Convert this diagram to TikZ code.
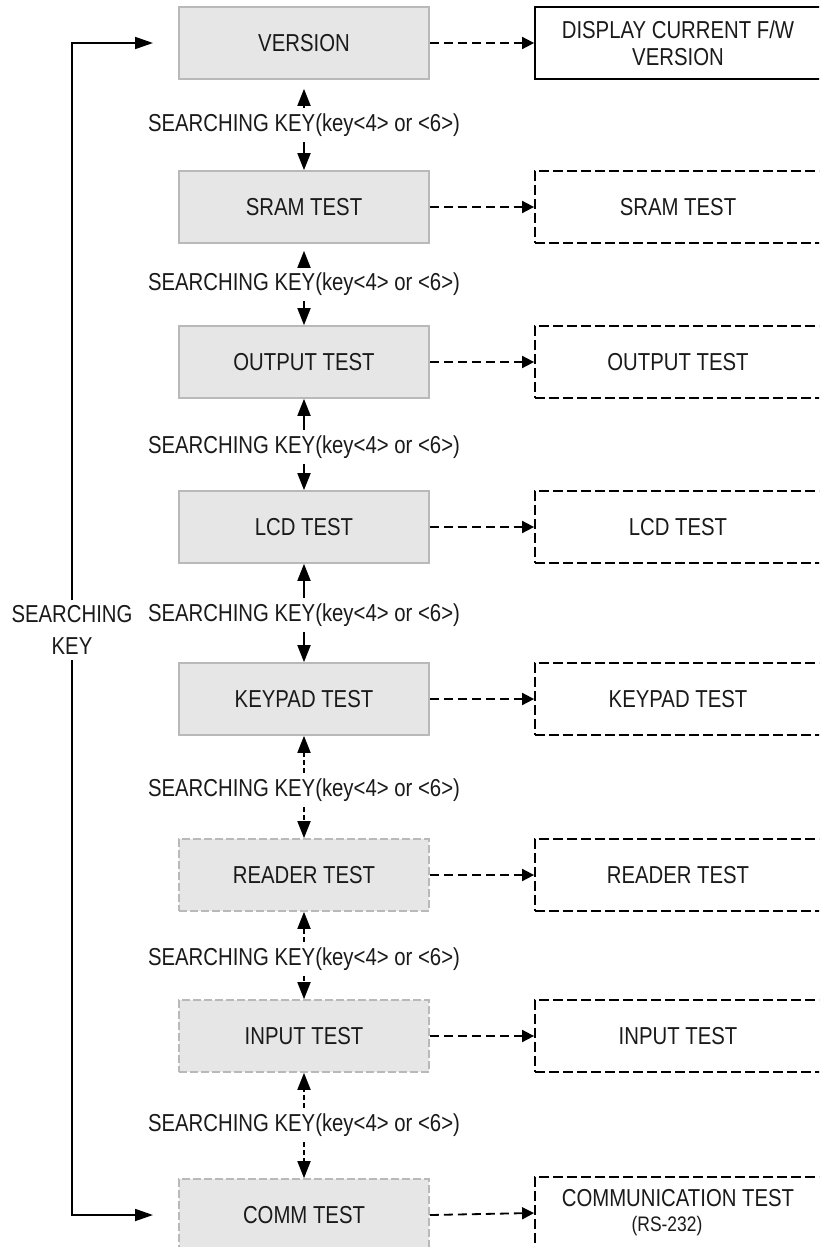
\documentclass[tikz,border=0pt]{standalone}
\usepackage{fontspec}
\setmainfont[FakeStretch=0.83]{Liberation Sans}
\usetikzlibrary{arrows.meta}
\definecolor{gfill}{RGB}{230,230,230}
\definecolor{gborder}{RGB}{185,185,185}
\definecolor{txt}{RGB}{26,26,26}
\begin{document}
\begin{tikzpicture}[x=1pt,y=-1pt,
  font=\fontsize{24.5}{29}\selectfont,
  every node/.style={text=txt},
  gbox/.style={draw=gborder, fill=gfill, line width=1.6pt, minimum width=250pt, minimum height=72pt, inner sep=0pt},
  gdbox/.style={gbox, dash pattern=on 8pt off 3pt},
  rbox/.style={draw=black, line width=1.8pt, minimum width=286pt, minimum height=72pt, inner sep=0pt, align=center},
  rdbox/.style={rbox, dash pattern=on 10pt off 4pt},
  lbl/.style={inner xsep=0pt, inner ysep=6pt, text height=17.5pt, text depth=5pt},
  varrow/.style={line width=1.8pt, -{Triangle[length=17pt,width=13pt]}},
  vdarrow/.style={varrow, dash pattern=on 5pt off 3pt},
  harrow/.style={line width=1.8pt, dash pattern=on 9pt off 5pt, -{Triangle[length=12pt,width=12pt]}},
  loop/.style={line width=1.8pt, -{Triangle[length=18pt,width=12pt]}}
]
\clip (0,0) rectangle (819,1247);

% left column
\node[gbox]  (ver)  at (304,43)   {VERSION};
\node[gbox]  (sram) at (304,207)  {SRAM TEST};
\node[gbox]  (out)  at (304,362)  {OUTPUT TEST};
\node[gbox]  (lcd)  at (304,527)  {LCD TEST};
\node[gbox]  (key)  at (304,699)  {KEYPAD TEST};
\node[gdbox] (rdr)  at (304,875)  {READER TEST};
\node[gdbox] (inp)  at (304,1036) {INPUT TEST};
\node[gdbox] (comm) at (304,1215) {COMM TEST};

% right column
\node[rbox]  (verR)  at (678,43)   {DISPLAY CURRENT F/W\\[-2pt]VERSION};
\node[rdbox] (sramR) at (678,207)  {SRAM TEST};
\node[rdbox] (outR)  at (678,362)  {OUTPUT TEST};
\node[rdbox] (lcdR)  at (678,527)  {LCD TEST};
\node[rdbox] (keyR)  at (678,699)  {KEYPAD TEST};
\node[rdbox] (rdrR)  at (678,875)  {READER TEST};
\node[rdbox] (inpR)  at (678,1036) {INPUT TEST};
\node[rdbox] (commR) at (678,1213) {COMMUNICATION TEST\\[-4pt]{\fontsize{21}{24}\selectfont (RS-232)\hspace*{22pt}}};

% horizontal dashed arrows
\foreach \a in {ver,sram,out,lcd,key,rdr,inp,comm}
  \draw[harrow] (\a.east) -- (\a R.west);

% labels between boxes
\node[lbl] (l1) at (304,125)  {SEARCHING KEY(key<4> or <6>)};
\node[lbl] (l2) at (304,284)  {SEARCHING KEY(key<4> or <6>)};
\node[lbl] (l3) at (304,447)  {SEARCHING KEY(key<4> or <6>)};
\node[lbl] (l4) at (304,615)  {SEARCHING KEY(key<4> or <6>)};
\node[lbl] (l5) at (304,790)  {SEARCHING KEY(key<4> or <6>)};
\node[lbl] (l6) at (304,959)  {SEARCHING KEY(key<4> or <6>)};
\node[lbl] (l7) at (304,1125) {SEARCHING KEY(key<4> or <6>)};

\draw[varrow, shorten >=9pt] (l1.north) -- (ver.south);
\draw[varrow] (l1.south) -- (sram.north);
\draw[varrow, shorten >=7pt] (l2.north) -- (sram.south);
\draw[varrow] (l2.south) -- (out.north);
\draw[varrow] (l3.north) -- (out.south);
\draw[varrow] (l3.south) -- (lcd.north);
\draw[varrow] (l4.north) -- (lcd.south);
\draw[varrow] (l4.south) -- (key.north);
\draw[vdarrow] (l5.north) -- (key.south);
\draw[vdarrow] (l5.south) -- (rdr.north);
\draw[vdarrow] (l6.north) -- (rdr.south);
\draw[vdarrow] (l6.south) -- (inp.north);
\draw[vdarrow] (l7.north) -- (inp.south);
\draw[vdarrow] (l7.south) -- (comm.north);

% left loop
\node[align=center, inner sep=0pt, inner ysep=5pt, font=\fontsize{24.5}{32}\selectfont] (skl) at (72,630) {SEARCHING\\KEY};
\coordinate (t1) at (153,43);
\coordinate (t2) at (153,1215);
\draw[loop] (skl.north) |- (t1);
\draw[loop] (skl.south) |- (t2);
\end{tikzpicture}
\end{document}
